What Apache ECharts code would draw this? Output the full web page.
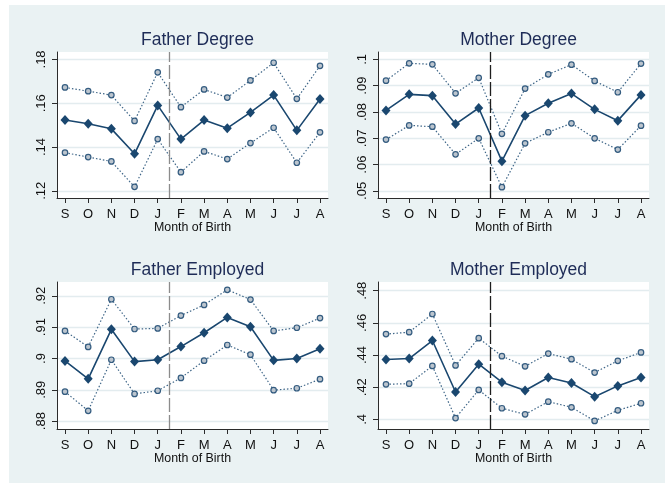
<!DOCTYPE html>
<html>
<head>
<meta charset="utf-8">
<script src="https://cdn.jsdelivr.net/npm/echarts@6/dist/echarts.min.js"></script>
<style>
  html, body { margin: 0; padding: 0; background: #ffffff; }
  #chart { width: 665px; height: 483px; }
</style>
</head>
<body>
<div id="chart"></div>
<script>
// Month of birth, school-year order (September to August)
const months = ['S', 'O', 'N', 'D', 'J', 'F', 'M', 'A', 'M', 'J', 'J', 'A'];

// Father Degree: mean and 95% band
const fdMean  = [0.1523, 0.1506, 0.1483, 0.1369, 0.1590, 0.1436, 0.1523, 0.1486, 0.1558, 0.1637, 0.1476, 0.1619];
const fdUpper = [0.1672, 0.1655, 0.1637, 0.1519, 0.1741, 0.1582, 0.1663, 0.1626, 0.1704, 0.1785, 0.1620, 0.1771];
const fdLower = [0.1374, 0.1354, 0.1334, 0.1218, 0.1436, 0.1285, 0.1380, 0.1345, 0.1418, 0.1488, 0.1328, 0.1467];
const fdTicks = [0.12, 0.14, 0.16, 0.18];

// Mother Degree
const mdMean  = [0.0806, 0.0867, 0.0862, 0.0754, 0.0815, 0.0613, 0.0786, 0.0833, 0.0870, 0.0810, 0.0767, 0.0865];
const mdUpper = [0.0919, 0.0985, 0.0981, 0.0871, 0.0930, 0.0717, 0.0889, 0.0943, 0.0980, 0.0918, 0.0875, 0.0984];
const mdLower = [0.0695, 0.0749, 0.0744, 0.0639, 0.0700, 0.0514, 0.0681, 0.0723, 0.0757, 0.0700, 0.0657, 0.0748];
const mdTicks = [0.05, 0.06, 0.07, 0.08, 0.09, 0.1];

// Father Employed
const feMean  = [0.8992, 0.8935, 0.9093, 0.8990, 0.8996, 0.9038, 0.9082, 0.9131, 0.9101, 0.8994, 0.9000, 0.9031];
const feUpper = [0.9088, 0.9037, 0.9189, 0.9094, 0.9096, 0.9137, 0.9171, 0.9219, 0.9188, 0.9088, 0.9098, 0.9129];
const feLower = [0.8894, 0.8833, 0.8996, 0.8887, 0.8897, 0.8938, 0.8993, 0.9043, 0.9012, 0.8899, 0.8905, 0.8934];
const feTicks = [0.88, 0.89, 0.90, 0.91, 0.92];

// Mother Employed
const meMean  = [0.4372, 0.4378, 0.4490, 0.4170, 0.4343, 0.4231, 0.4179, 0.4260, 0.4226, 0.4141, 0.4208, 0.4260];
const meUpper = [0.4530, 0.4542, 0.4655, 0.4335, 0.4505, 0.4393, 0.4330, 0.4409, 0.4374, 0.4291, 0.4364, 0.4416];
const meLower = [0.4218, 0.4222, 0.4332, 0.4008, 0.4183, 0.4069, 0.4031, 0.4110, 0.4075, 0.3990, 0.4056, 0.4100];
const meTicks = [0.40, 0.42, 0.44, 0.46, 0.48];

const FONT = '"Liberation Sans", Arial, sans-serif';
const NAVY = '#1a476f';
const BAND = '#3f6688';

// Four panels: title, data, grid box, axis span, colour of the Jan/Feb cut-off line
const panels = [
  { title: 'Father Degree',   mean: fdMean, hi: fdUpper, lo: fdLower, ticks: fdTicks,
    box: { left: 57,  top: 52,  width: 271, height: 146 }, yMin: 0.1167, yMax: 0.1834, cut: '#8c8c8c' },
  { title: 'Mother Degree',   mean: mdMean, hi: mdUpper, lo: mdLower, ticks: mdTicks,
    box: { left: 378, top: 52,  width: 271, height: 146 }, yMin: 0.0473, yMax: 0.1028, cut: '#1e1e1e' },
  { title: 'Father Employed', mean: feMean, hi: feUpper, lo: feLower, ticks: feTicks,
    box: { left: 57,  top: 282, width: 271, height: 147 }, yMin: 0.8775, yMax: 0.9244, cut: '#8c8c8c' },
  { title: 'Mother Employed', mean: meMean, hi: meUpper, lo: meLower, ticks: meTicks,
    box: { left: 378, top: 282, width: 271, height: 147 }, yMin: 0.3940, yMax: 0.4854, cut: '#1e1e1e' }
];

const monthIdx = months.map((m, i) => i);
const pairs = arr => arr.map((v, i) => [i, v]);
const stataNum = v => String(+v.toFixed(4)).replace(/^0\./, '.');

const option = {
  backgroundColor: '#eaf2f3',
  animation: false,
  textStyle: { fontFamily: FONT },
  graphic: [
    { type: 'rect', shape: { x: 0, y: 0, width: 9, height: 483 }, style: { fill: '#ffffff' }, silent: true },
    { type: 'rect', shape: { x: 0, y: 0, width: 665, height: 5 }, style: { fill: '#ffffff' }, silent: true }
  ],
  title: [], grid: [], xAxis: [], yAxis: [], series: []
};

panels.forEach((p, k) => {
  const cx = p.box.left + p.box.width / 2;
  option.title.push({
    text: p.title, left: cx, top: p.box.top - 26, textAlign: 'center',
    textStyle: { fontFamily: FONT, fontSize: 17.5, fontWeight: 'normal', color: '#1e2c57' }
  });
  option.grid.push(Object.assign({
    show: true, backgroundColor: '#ffffff', borderWidth: 0, containLabel: false, outerBoundsMode: 'none'
  }, p.box));
  option.xAxis.push({
    type: 'value', gridIndex: k, min: -0.345, max: 11.345,
    name: 'Month of Birth', nameLocation: 'middle', nameGap: 22,
    nameTextStyle: { fontFamily: FONT, fontSize: 12.4, color: '#111' },
    axisLine: { show: true, onZero: false, lineStyle: { color: '#2b2b2b', width: 1 } },
    axisTick: { show: true, length: 5, customValues: monthIdx, lineStyle: { color: '#2b2b2b' } },
    axisLabel: { customValues: monthIdx, margin: 10, fontSize: 13, color: '#111', fontFamily: FONT,
      formatter: v => months[Math.round(v)] },
    splitLine: { show: false }
  });
  option.yAxis.push({
    type: 'value', gridIndex: k, min: p.yMin, max: p.yMax,
    axisLine: { show: true, onZero: false, lineStyle: { color: '#2b2b2b', width: 1 } },
    axisTick: { show: true, length: 5, customValues: p.ticks, lineStyle: { color: '#2b2b2b' } },
    axisLabel: { customValues: p.ticks, rotate: 90, margin: 9, fontSize: 13, color: '#111', fontFamily: FONT,
      formatter: stataNum },
    splitLine: { show: true, lineStyle: { color: '#e3ecef', width: 1.3 } }
  });
  const band = arr => ({
    type: 'line', xAxisIndex: k, yAxisIndex: k, data: pairs(arr),
    symbol: 'circle', symbolSize: 5.5,
    lineStyle: { color: BAND, width: 1.2, type: [1.5, 2] },
    itemStyle: { color: '#bcc5ce', borderColor: '#345c80', borderWidth: 1.2 },
    z: 3
  });
  option.series.push(band(p.hi));
  option.series.push(band(p.lo));
  option.series.push({
    type: 'line', xAxisIndex: k, yAxisIndex: k, data: pairs(p.mean),
    symbol: 'diamond', symbolSize: [9, 10],
    lineStyle: { color: NAVY, width: 1.6 },
    itemStyle: { color: NAVY, borderWidth: 0 },
    z: 4,
    markLine: {
      silent: true, symbol: 'none', label: { show: false },
      lineStyle: { color: p.cut, width: 1.3, type: [14, 3] },
      data: [{ xAxis: 4.5 }]
    }
  });
});

const chart = echarts.init(document.getElementById('chart'), null, { renderer: 'canvas' });
chart.setOption(option);
</script>
</body>
</html>
